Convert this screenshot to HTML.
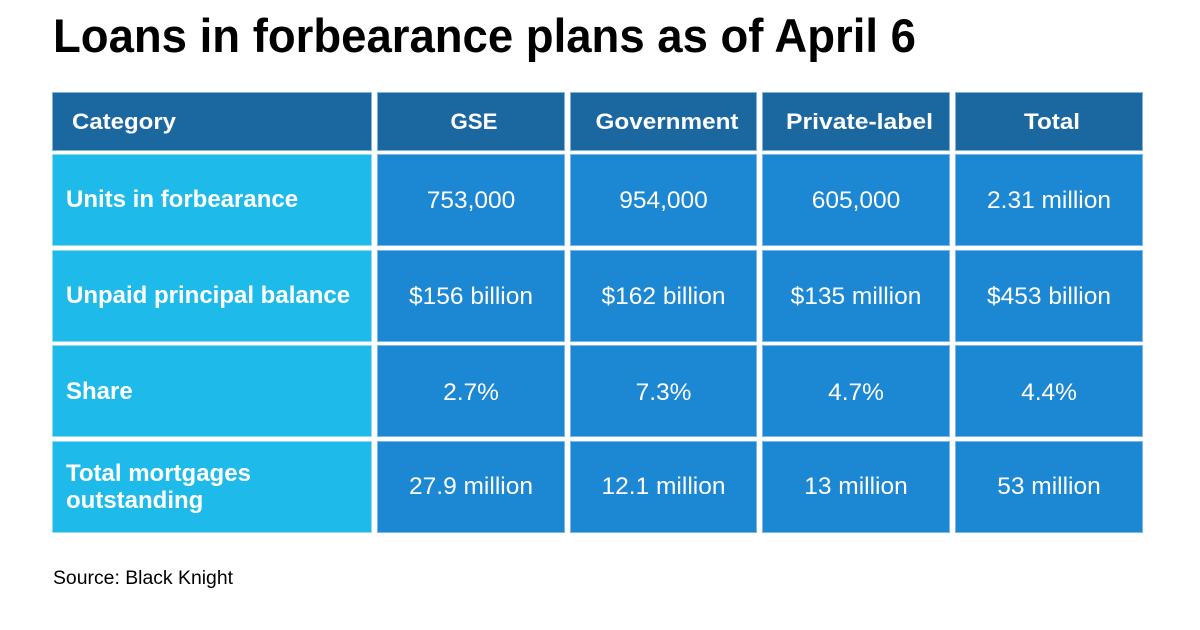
<!DOCTYPE html>
<html>
<head>
<meta charset="utf-8">
<style>
html,body{margin:0;padding:0;background:#fff;}
svg{display:block;}
.t{font-family:"Liberation Sans",Arial,sans-serif;}
</style>
</head>
<body>
<svg width="1200" height="630" viewBox="0 0 1200 630" xmlns="http://www.w3.org/2000/svg">
<rect width="1200" height="630" fill="#fff"/>
<text class="t" x="53" y="52" font-size="47" font-weight="bold" fill="#000" textLength="863" lengthAdjust="spacingAndGlyphs">Loans in forbearance plans as of April 6</text>

<g stroke="#7fb6e0" stroke-width="1">
<rect x="52.5" y="92.5" width="319" height="58" fill="#1b67a0"/>
<rect x="377.5" y="92.5" width="187" height="58" fill="#1b67a0"/>
<rect x="570.5" y="92.5" width="186" height="58" fill="#1b67a0"/>
<rect x="762.5" y="92.5" width="187" height="58" fill="#1b67a0"/>
<rect x="955.5" y="92.5" width="187" height="58" fill="#1b67a0"/>
</g>
<g stroke="#8fd8f2" stroke-width="1">
<rect x="52.5" y="154.5" width="319" height="91" fill="#1ebbea"/>
<rect x="52.5" y="250.5" width="319" height="91" fill="#1ebbea"/>
<rect x="52.5" y="345.5" width="319" height="91" fill="#1ebbea"/>
<rect x="52.5" y="441.5" width="319" height="91" fill="#1ebbea"/>
</g>
<g stroke="#79b8e8" stroke-width="1" fill="#1c87d3">
<rect x="377.5" y="154.5" width="187" height="91"/>
<rect x="570.5" y="154.5" width="186" height="91"/>
<rect x="762.5" y="154.5" width="187" height="91"/>
<rect x="955.5" y="154.5" width="187" height="91"/>
<rect x="377.5" y="250.5" width="187" height="91"/>
<rect x="570.5" y="250.5" width="186" height="91"/>
<rect x="762.5" y="250.5" width="187" height="91"/>
<rect x="955.5" y="250.5" width="187" height="91"/>
<rect x="377.5" y="345.5" width="187" height="91"/>
<rect x="570.5" y="345.5" width="186" height="91"/>
<rect x="762.5" y="345.5" width="187" height="91"/>
<rect x="955.5" y="345.5" width="187" height="91"/>
<rect x="377.5" y="441.5" width="187" height="91"/>
<rect x="570.5" y="441.5" width="186" height="91"/>
<rect x="762.5" y="441.5" width="187" height="91"/>
<rect x="955.5" y="441.5" width="187" height="91"/>
</g>

<g class="t" fill="#fff" font-weight="bold" font-size="22">
<text x="72" y="129" textLength="104" lengthAdjust="spacingAndGlyphs">Category</text>
<text x="474" y="129" text-anchor="middle" textLength="47" lengthAdjust="spacingAndGlyphs">GSE</text>
<text x="667" y="129" text-anchor="middle" textLength="143" lengthAdjust="spacingAndGlyphs">Government</text>
<text x="859.5" y="129" text-anchor="middle" textLength="147" lengthAdjust="spacingAndGlyphs">Private-label</text>
<text x="1052" y="129" text-anchor="middle" textLength="56" lengthAdjust="spacingAndGlyphs">Total</text>
</g>

<g class="t" fill="#fff" font-weight="bold" font-size="24">
<text x="66" y="207">Units in forbearance</text>
<text x="66" y="303">Unpaid principal balance</text>
<text x="66" y="399">Share</text>
<text x="66" y="481">Total mortgages</text>
<text x="66" y="508">outstanding</text>
</g>

<g class="t" fill="#fff" font-size="24.5" text-anchor="middle">
<text x="471" y="208">753,000</text>
<text x="663.5" y="208">954,000</text>
<text x="856" y="208">605,000</text>
<text x="1049" y="208">2.31 million</text>

<text x="471" y="304">$156 billion</text>
<text x="663.5" y="304">$162 billion</text>
<text x="856" y="304">$135 million</text>
<text x="1049" y="304">$453 billion</text>

<text x="471" y="400">2.7%</text>
<text x="663.5" y="400">7.3%</text>
<text x="856" y="400">4.7%</text>
<text x="1049" y="400">4.4%</text>

<text x="471" y="494">27.9 million</text>
<text x="663.5" y="494">12.1 million</text>
<text x="856" y="494">13 million</text>
<text x="1049" y="494">53 million</text>
</g>

<text class="t" x="53" y="584" font-size="19" fill="#000" textLength="180" lengthAdjust="spacingAndGlyphs">Source: Black Knight</text>
</svg>
</body>
</html>
